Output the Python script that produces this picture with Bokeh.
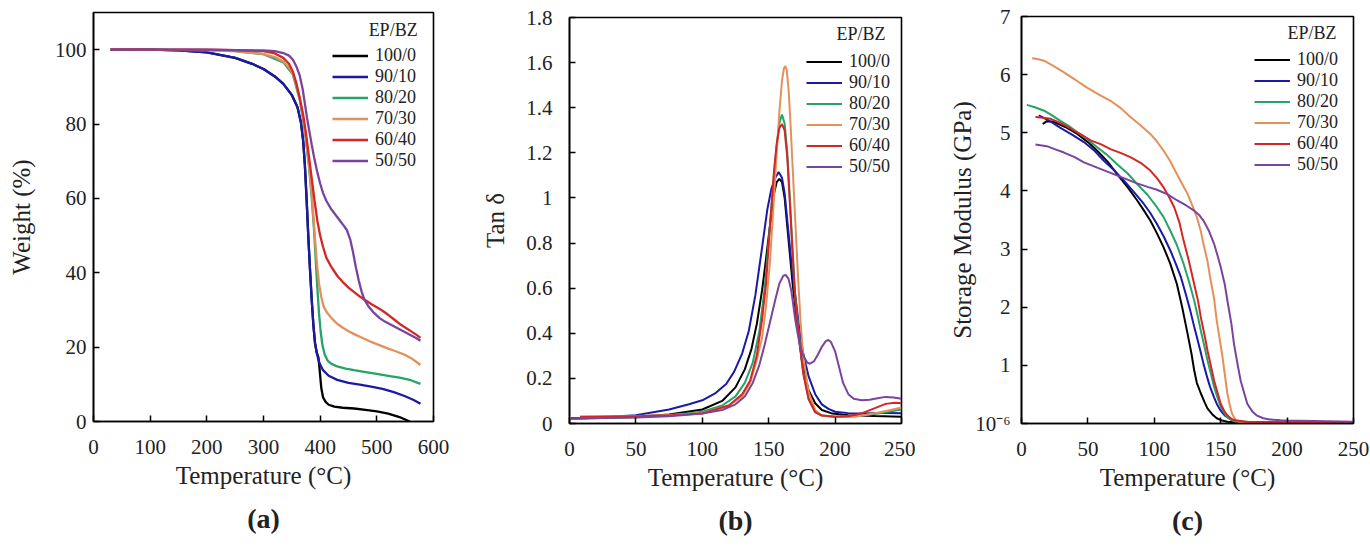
from bokeh.plotting import figure
from bokeh.layouts import row, column
from bokeh.models import FixedTicker, Legend, LegendItem, Label, Title, Range1d
from bokeh.embed import file_html
from bokeh.resources import INLINE

FONT = "Liberation Serif"

# ---------------- data ----------------
series_labels = ["100/0", "90/10", "80/20", "70/30", "60/40", "50/50"]
series_colors = ["#000000", "#1a1aa6", "#26a468", "#e4905a", "#d42626", "#7a449e"]

# (a) TGA: Weight (%) vs Temperature
tga_T_100_0 = [30, 100, 150, 200, 250, 280, 300, 320, 335, 350, 360, 366, 370, 373, 376, 379, 382, 385, 388, 391, 394, 397,
               399, 402, 405, 410, 415, 425, 440, 460, 480, 500, 520, 540, 558]
tga_W_100_0 = [100, 100, 99.8, 99.3, 97.8, 96.2, 94.8, 92.8, 90.8, 87.8, 84.5, 80.5, 75.5, 69, 60, 50, 41, 33, 26, 21, 18.5, 17.2,
               14, 9, 6.5, 5.2, 4.5, 4.0, 3.7, 3.5, 3.1, 2.7, 2.1, 1.2, 0]
tga_T_90_10 = [30, 100, 150, 200, 250, 280, 300, 320, 335, 350, 360, 366, 370, 373, 376, 379, 382, 385, 388, 391, 394, 397,
               400, 405, 415, 430, 450, 470, 490, 510, 530, 550, 565, 577]
tga_W_90_10 = [100, 100, 99.8, 99.3, 97.8, 96.2, 94.8, 92.8, 90.8, 87.8, 84.5, 80.5, 75.5, 69, 60, 50, 41, 33, 26, 21, 18.5, 16.5,
               15.3, 13.8, 12.3, 11.2, 10.4, 9.9, 9.4, 8.8, 7.9, 6.8, 5.8, 4.8]
tga_T_80_20 = [30, 200, 250, 300, 335, 352, 364, 370, 375, 380, 385, 389, 392, 395, 398, 401, 404, 408, 413, 420, 430, 445,
               460, 480, 500, 520, 540, 560, 577]
tga_W_80_20 = [100, 99.9, 99.6, 98.8, 96.6, 93.3, 86.5, 81, 75.5, 69, 60.5, 52, 44, 36, 29, 24, 20.5, 18, 16.4, 15.5, 14.8, 14.2,
               13.8, 13.3, 12.8, 12.3, 11.8, 11.1, 10.1]
tga_T_70_30 = [30, 200, 250, 300, 320, 335, 345, 352, 358, 364, 370, 375, 380, 385, 390, 394, 398, 402, 406, 411, 420, 430,
               440, 450, 460, 470, 480, 490, 500, 510, 520, 530, 540, 550, 560, 570, 577]
tga_W_70_30 = [100, 99.9, 99.6, 98.8, 98, 96.8, 95.2, 93.5, 90.5, 87, 81.5, 76, 69.5, 61.5, 51, 43, 37, 33.5, 31, 29.5, 27.8, 26.3,
               25.2, 24.3, 23.5, 22.8, 22.1, 21.4, 20.8, 20.2, 19.6, 19.1, 18.5, 17.9, 17.1, 16, 15.2]
tga_T_60_40 = [30, 200, 250, 300, 320, 335, 345, 352, 358, 364, 370, 375, 380, 385, 390, 395, 400, 405, 411, 420, 430, 440,
               450, 460, 470, 480, 490, 500, 510, 520, 530, 540, 550, 560, 570, 577]
tga_W_60_40 = [100, 100, 99.9, 99.6, 99, 97.8, 96.2, 94, 91, 87, 82.5, 77.5, 71.5, 65.5, 59.5, 54, 50, 47, 44, 41.5, 39.2, 37.5,
               36, 34.8, 33.6, 32.6, 31.6, 30.7, 29.8, 28.7, 27.5, 26.3, 25.3, 24.3, 23.3, 22.5]
tga_T_50_50 = [30, 200, 250, 300, 320, 335, 345, 352, 358, 364, 369, 373, 377, 381, 385, 390, 395, 400, 405, 411, 420, 430,
               440, 447, 453, 458, 463, 468, 473, 478, 485, 495, 505, 515, 525, 540, 555, 570, 577]
tga_W_50_50 = [100, 100, 99.9, 99.8, 99.6, 99.1, 98.4, 97.3, 95.5, 93, 89.5, 85.5, 81.5, 78, 74.5, 70.5, 67, 64, 61.5, 59.3, 57,
               55, 53, 51.5, 49, 45.5, 41.5, 38, 35, 32.8, 31, 29.2, 27.8, 26.8, 26, 24.8, 23.6, 22.4, 21.7]

# (b) DMA: Tan delta vs Temperature
tan_T_100_0 = [1, 25, 50, 75, 100, 115, 125, 132, 137, 141, 145, 148, 151, 154, 156, 158, 160, 162, 165, 168, 170, 173, 175,
               178, 180, 185, 190, 198, 210, 230, 250]
tan_V_100_0 = [0.022, 0.026, 0.030, 0.040, 0.062, 0.100, 0.160, 0.240, 0.33, 0.44, 0.59, 0.73, 0.88, 1.02, 1.07, 1.085, 1.07,
               1.00, 0.81, 0.62, 0.517, 0.37, 0.28, 0.20, 0.148, 0.09, 0.06, 0.044, 0.037, 0.033, 0.030]
tan_T_90_10 = [1, 25, 50, 75, 90, 100, 110, 118, 124, 130, 135, 140, 145, 149, 152, 155, 157.5, 160, 162, 165, 168, 170, 173,
               176, 180, 185, 190, 195, 200, 210, 220, 230, 240, 250]
tan_V_90_10 = [0.022, 0.028, 0.037, 0.062, 0.085, 0.103, 0.135, 0.175, 0.23, 0.31, 0.41, 0.57, 0.78, 0.95, 1.04, 1.09, 1.115,
               1.09, 1.02, 0.84, 0.66, 0.57, 0.42, 0.31, 0.21, 0.13, 0.085, 0.065, 0.052, 0.046, 0.044, 0.046, 0.047, 0.045]
tan_T_80_20 = [1, 25, 50, 75, 100, 115, 125, 132, 138, 143, 147, 151, 154, 156, 158, 160, 162, 164, 166, 168, 170, 173, 176,
               180, 185, 190, 200, 215, 230, 240, 250]
tan_V_80_20 = [0.02, 0.024, 0.028, 0.035, 0.052, 0.08, 0.12, 0.18, 0.27, 0.41, 0.6, 0.88, 1.1, 1.23, 1.33, 1.37, 1.33, 1.2,
               0.99, 0.77, 0.56, 0.38, 0.23, 0.11, 0.05, 0.035, 0.03, 0.032, 0.042, 0.052, 0.062]
tan_T_70_30 = [8, 25, 50, 75, 100, 120, 130, 136, 141, 145, 148, 151, 154, 156, 158, 160, 161.5, 162.5, 163.5, 165, 166.5, 168,
               170, 172, 174, 176, 180, 185, 190, 200, 215, 230, 240, 250]
tan_V_70_30 = [0.03, 0.031, 0.033, 0.038, 0.047, 0.08, 0.12, 0.18, 0.28, 0.38, 0.52, 0.72, 1.0, 1.2, 1.38, 1.52, 1.575, 1.585,
               1.57, 1.48, 1.32, 1.14, 0.9, 0.66, 0.45, 0.3, 0.14, 0.06, 0.035, 0.03, 0.03, 0.045, 0.058, 0.071]
tan_T_60_40 = [8, 25, 50, 75, 100, 120, 130, 136, 141, 145, 148, 151, 154, 156, 158, 160, 162, 164, 166, 168, 170, 173, 176,
               180, 185, 190, 200, 210, 220, 230, 238, 245, 250]
tan_V_60_40 = [0.03, 0.031, 0.032, 0.036, 0.044, 0.08, 0.13, 0.19, 0.3, 0.46, 0.62, 0.88, 1.12, 1.24, 1.31, 1.327, 1.3, 1.18,
               0.97, 0.75, 0.55, 0.37, 0.22, 0.11, 0.05, 0.035, 0.03, 0.032, 0.045, 0.068, 0.087, 0.092, 0.09]
tan_T_50_50 = [1, 25, 50, 75, 100, 115, 125, 132, 138, 143, 147, 151, 155, 158, 161, 163, 165, 167, 170, 173, 176, 179, 181,
               184, 187, 190, 193, 195, 197, 200, 203, 206, 210, 214, 220, 226, 232, 238, 244, 250]
tan_V_50_50 = [0.022, 0.024, 0.027, 0.032, 0.044, 0.06, 0.085, 0.12, 0.18, 0.26, 0.35, 0.45, 0.55, 0.62, 0.655, 0.658, 0.64,
               0.59, 0.46, 0.36, 0.3, 0.27, 0.265, 0.275, 0.305, 0.34, 0.365, 0.37, 0.36, 0.32, 0.25, 0.18, 0.13, 0.11, 0.103,
               0.105, 0.112, 0.118, 0.115, 0.11]

# (c) DMA: Storage modulus (GPa) vs Temperature
sm_T_100_0 = [16, 19, 24, 33, 42, 50, 57, 65, 72, 80, 87, 92, 97, 102, 107, 112, 117, 121, 125, 128, 130, 132, 135, 138, 140,
              144, 147, 151, 155, 160, 200, 250]
sm_E_100_0 = [5.15, 5.2, 5.19, 5.1, 4.98, 4.84, 4.69, 4.5, 4.29, 4.06, 3.84, 3.67, 3.49, 3.27, 3.03, 2.75, 2.4, 2.0, 1.55, 1.2,
              0.92, 0.7, 0.52, 0.36, 0.26, 0.15, 0.09, 0.05, 0.03, 0.02, 0.02, 0.02]
sm_T_90_10 = [13, 20, 29, 38, 47, 55, 62, 70, 77, 85, 92, 97, 102, 107, 112, 116, 120, 124, 127, 130, 132, 135, 137, 140, 142,
              145, 147, 150, 153, 157, 160, 165, 200, 250]
sm_E_90_10 = [5.3, 5.22, 5.09, 4.97, 4.84, 4.69, 4.52, 4.35, 4.18, 3.97, 3.78, 3.62, 3.43, 3.22, 2.98, 2.76, 2.52, 2.2, 1.95,
              1.67, 1.49, 1.22, 1.03, 0.78, 0.63, 0.45, 0.34, 0.22, 0.14, 0.08, 0.05, 0.03, 0.02, 0.02]
sm_T_80_20 = [4, 10, 17, 23, 29, 36, 42, 50, 57, 65, 72, 80, 87, 95, 102, 107, 112, 117, 122, 126, 130, 133, 135, 138, 140, 143,
              145, 148, 150, 153, 155, 158, 162, 170, 200, 250]
sm_E_80_20 = [5.48, 5.44, 5.38, 5.3, 5.21, 5.11, 5.01, 4.88, 4.75, 4.61, 4.46, 4.3, 4.12, 3.93, 3.72, 3.55, 3.32, 3.07, 2.75,
              2.45, 2.12, 1.82, 1.6, 1.3, 1.09, 0.82, 0.63, 0.42, 0.29, 0.17, 0.11, 0.06, 0.03, 0.02, 0.02, 0.02]
sm_T_70_30 = [8, 12, 17, 24, 32, 40, 49, 58, 67, 75, 82, 90, 97, 102, 107, 112, 117, 121, 125, 129, 132, 135, 137, 140, 142,
              145, 147, 149, 151, 153, 155, 157, 158.5, 161, 163.5, 170, 200, 250]
sm_E_70_30 = [6.28, 6.27, 6.24, 6.15, 6.04, 5.92, 5.78, 5.66, 5.55, 5.42, 5.27, 5.12, 4.98, 4.85, 4.69, 4.51, 4.29, 4.12, 3.95,
              3.73, 3.55, 3.31, 3.09, 2.8, 2.52, 2.15, 1.77, 1.48, 1.2, 0.86, 0.52, 0.3, 0.17, 0.07, 0.03, 0.02, 0.02, 0.02]
sm_T_60_40 = [10.5, 16, 22, 30, 37, 45, 52, 60, 67, 75, 82, 90, 97, 102, 107, 111, 115, 119, 122, 126, 130, 133, 135, 138, 140,
              143, 145, 148, 150, 153, 155, 158, 162, 170, 200, 250]
sm_E_60_40 = [5.27, 5.26, 5.24, 5.16, 5.07, 4.97, 4.87, 4.8, 4.72, 4.65, 4.58, 4.48, 4.35, 4.22, 4.06, 3.9, 3.72, 3.45, 3.15,
              2.8, 2.4, 2.1, 1.83, 1.5, 1.26, 0.95, 0.74, 0.5, 0.34, 0.2, 0.14, 0.08, 0.05, 0.03, 0.02, 0.02]
sm_T_50_50 = [10.5, 19, 25, 32, 40, 47, 57, 67, 77, 87, 95, 102, 110, 117, 124, 130, 134, 137, 141, 145, 148, 150, 153, 155,
              158, 160, 163, 165, 168, 170, 174, 177, 182, 187, 195, 200, 250]
sm_E_50_50 = [4.8, 4.77, 4.72, 4.66, 4.58, 4.49, 4.4, 4.31, 4.22, 4.13, 4.07, 4.02, 3.94, 3.84, 3.75, 3.66, 3.58, 3.49, 3.32,
              3.09, 2.86, 2.69, 2.4, 2.12, 1.72, 1.37, 0.98, 0.74, 0.5, 0.34, 0.2, 0.14, 0.09, 0.07, 0.055, 0.05, 0.03]

# axis ticks / labels
a_xticks = [0, 100, 200, 300, 400, 500, 600]
a_xlabels = ["0", "100", "200", "300", "400", "500", "600"]
a_yticks = [0, 20, 40, 60, 80, 100]
a_ylabels = ["0", "20", "40", "60", "80", "100"]
b_xticks = [0, 50, 100, 150, 200, 250]
b_xlabels = ["0", "50", "100", "150", "200", "250"]
b_yticks = [0.0, 0.2, 0.4, 0.6, 0.8, 1.0, 1.2, 1.4, 1.6, 1.8]
b_ylabels = ["0", "0.2", "0.4", "0.6", "0.8", "1", "1.2", "1.4", "1.6", "1.8"]
c_xticks = [0, 50, 100, 150, 200, 250]
c_xlabels = ["0", "50", "100", "150", "200", "250"]
c_yticks = [0, 1, 2, 3, 4, 5, 6, 7]
c_ylabels = ["10\u207b\u2076", "1", "2", "3", "4", "5", "6", "7"]

tga_series = [(tga_T_100_0, tga_W_100_0), (tga_T_90_10, tga_W_90_10), (tga_T_80_20, tga_W_80_20),
              (tga_T_70_30, tga_W_70_30), (tga_T_60_40, tga_W_60_40), (tga_T_50_50, tga_W_50_50)]
tan_series = [(tan_T_100_0, tan_V_100_0), (tan_T_90_10, tan_V_90_10), (tan_T_80_20, tan_V_80_20),
              (tan_T_70_30, tan_V_70_30), (tan_T_60_40, tan_V_60_40), (tan_T_50_50, tan_V_50_50)]
sm_series = [(sm_T_100_0, sm_E_100_0), (sm_T_90_10, sm_E_90_10), (sm_T_80_20, sm_E_80_20),
             (sm_T_70_30, sm_E_70_30), (sm_T_60_40, sm_E_60_40), (sm_T_50_50, sm_E_50_50)]


def make_panel(series, xr, yr, xticks, xlabels, yticks, ylabels, ylabel, letter,
               width, height, mbl, mbr, mbt, mbb, ylab_standoff, yaxis_label_standoff,
               legend_loc, title_xy, lw):
    p = figure(width=width, height=height, x_range=Range1d(*xr), y_range=Range1d(*yr),
               output_backend="svg", toolbar_location=None,
               min_border_left=mbl, min_border_right=mbr, min_border_top=mbt, min_border_bottom=mbb)
    p.grid.visible = False
    p.outline_line_color = "black"
    p.outline_line_width = 1.6
    p.outline_line_alpha = 1.0
    p.background_fill_color = "white"
    p.border_fill_color = "white"

    for ax, ticks, labels in ((p.xaxis[0], xticks, xlabels), (p.yaxis[0], yticks, ylabels)):
        ax.ticker = FixedTicker(ticks=ticks)
        ax.major_label_overrides = {t: l for t, l in zip(ticks, labels)}
        ax.major_tick_in = 6
        ax.major_tick_out = 0
        ax.minor_tick_in = 0
        ax.minor_tick_out = 0
        ax.major_tick_line_width = 1.5
        ax.axis_line_width = 1.6
        ax.major_label_text_font = FONT
        ax.major_label_text_font_size = "21px"
        ax.major_label_text_color = "#222222"
        ax.axis_label_text_font = FONT
        ax.axis_label_text_font_size = "25px"
        ax.axis_label_text_font_style = "normal"
        ax.axis_label_text_color = "#222222"

    p.xaxis.axis_label = "Temperature (\u00b0C)"
    p.xaxis.major_label_standoff = 18
    p.xaxis.axis_label_standoff = 5
    p.yaxis.axis_label = ylabel
    p.yaxis.major_label_standoff = ylab_standoff
    p.yaxis.axis_label_standoff = yaxis_label_standoff

    items = []
    for (xs, ys), lab, col in zip(series, series_labels, series_colors):
        r = p.line(xs, ys, line_color=col, line_width=lw)
        items.append(LegendItem(label=lab, renderers=[r]))

    leg = Legend(items=items, location=legend_loc, glyph_width=36, glyph_height=21, label_height=21,
                 label_standoff=7, spacing=0, padding=4, border_line_alpha=0, background_fill_alpha=0,
                 label_text_font=FONT, label_text_font_size="18px", label_text_color="#222222")
    p.add_layout(leg)

    p.add_layout(Label(x=title_xy[0], y=title_xy[1], text="EP/BZ", text_align="right", text_baseline="middle",
                       text_font=FONT, text_font_size="18px", text_color="#222222"))

    p.add_layout(Title(text=letter, align="center", text_font=FONT, text_font_size="28px",
                       text_font_style="bold", text_color="#222222", standoff=19), "below")
    return p


pa = make_panel(tga_series, (0, 600), (0, 110), a_xticks, a_xlabels, a_yticks, a_ylabels, "Weight (%)", "(a)",
                460, 552, 93, 27, 12, 131, 7, 17, (235, 246), (572, 105.4), 2.3)
pb = make_panel(tan_series, (0, 250), (0, 1.8), b_xticks, b_xlabels, b_yticks, b_ylabels, "Tan \u03b4", "(b)",
                455, 552, 109, 14, 17, 129, 17, 14, (233, 242), (238, 1.725), 2.0)
pc = make_panel(sm_series, (0, 250), (0, 7), c_xticks, c_xlabels, c_yticks, c_ylabels, "Storage Modulus (GPa)", "(c)",
                455, 552, 106, 17, 16, 129, 11, -4, (229, 244), (237.2, 6.71), 2.0)

layout = row(column(pa), column(pb), column(pc))
open("out.html", "w").write(file_html(layout, INLINE))
